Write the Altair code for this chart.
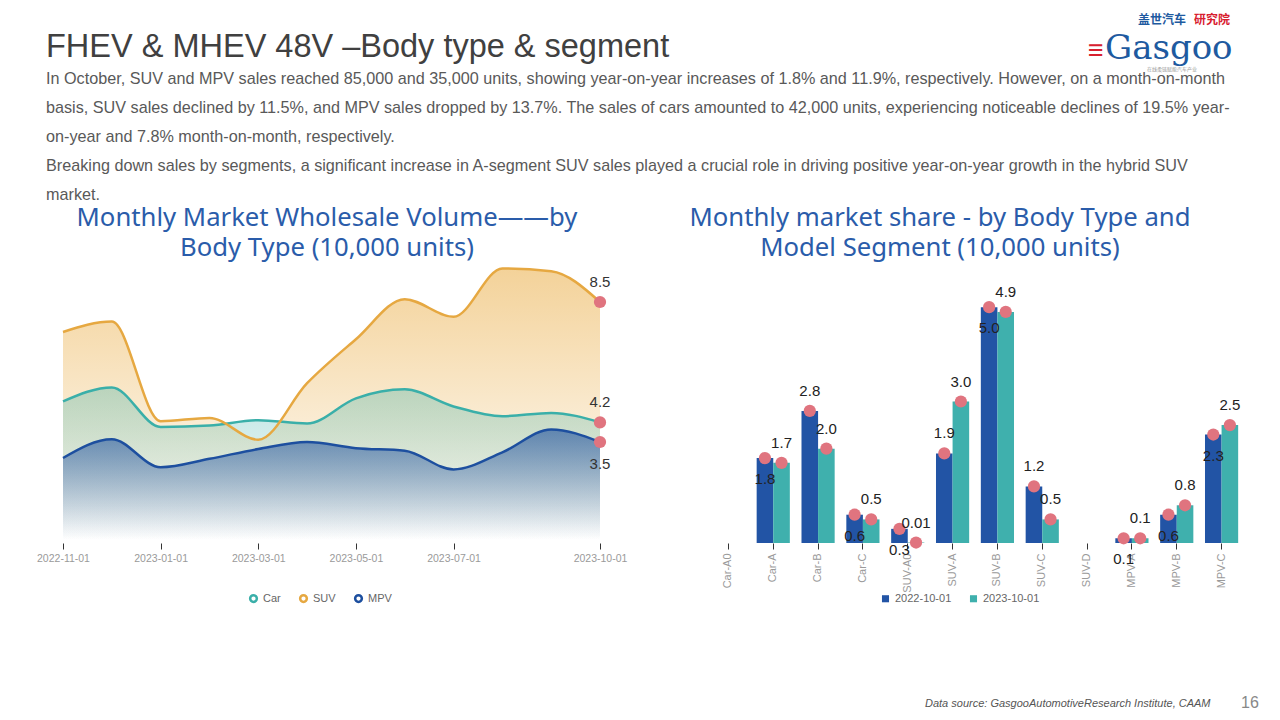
import altair as alt
import pandas as pd

FONT = "Liberation Sans, Arial, sans-serif"
TFONT = "Noto Sans, Liberation Sans, sans-serif"

# ---------------- data: left chart ----------------
months = ["2022-11-01", "2022-12-01", "2023-01-01", "2023-02-01", "2023-03-01", "2023-04-01",
          "2023-05-01", "2023-06-01", "2023-07-01", "2023-08-01", "2023-09-01", "2023-10-01"]
car = [4.95, 5.45, 4.04, 4.09, 4.28, 4.16, 5.06, 5.38, 4.77, 4.42, 4.54, 4.2]
suv = [7.43, 7.8, 4.24, 4.36, 3.58, 5.6, 7.17, 8.6, 7.97, 9.7, 9.6, 8.5]
mpv = [2.93, 3.6, 2.6, 2.9, 3.25, 3.5, 3.28, 3.19, 2.52, 3.13, 3.95, 3.5]
series_names = ["Car", "SUV", "MPV"]
tick_months = ["2022-11-01", "2023-01-01", "2023-03-01", "2023-05-01", "2023-07-01", "2023-10-01"]
left_labels_below = ["MPV"]

# ---------------- data: right chart ----------------
segments = ["Car-A0", "Car-A", "Car-B", "Car-C", "SUV-A0", "SUV-A", "SUV-B", "SUV-C",
            "SUV-D", "MPV-A", "MPV-B", "MPV-C"]
periods = ["2022-10-01", "2023-10-01"]
vals_2022 = [None, 1.8, 2.8, 0.6, 0.3, 1.9, 5.0, 1.2, None, 0.1, 0.6, 2.3]
vals_2023 = [None, 1.7, 2.0, 0.5, 0.01, 3.0, 4.9, 0.5, None, 0.1, 0.8, 2.5]
labels_2022_above = ["Car-B", "SUV-A", "SUV-C"]

# ---------------- texts ----------------
page_title = "FHEV & MHEV 48V \u2013Body type & segment"
paragraph = "\n".join([
    "In October, SUV and MPV sales reached 85,000 and 35,000 units, showing year-on-year increases of 1.8% and 11.9%, respectively. However, on a month-on-month",
    "basis, SUV sales declined by 11.5%, and MPV sales dropped by 13.7%. The sales of cars amounted to 42,000 units, experiencing noticeable declines of 19.5% year-",
    "on-year and 7.8% month-on-month, respectively.",
    "Breaking down sales by segments, a significant increase in A-segment SUV sales played a crucial role in driving positive year-on-year growth in the hybrid SUV",
    "market.",
])
left_title = "Monthly Market Wholesale Volume\u2014\u2014by\nBody Type (10,000 units)"
right_title = "Monthly market share - by Body Type and\nModel Segment (10,000 units)"
footer = "Data source: GasgooAutomotiveResearch Institute, CAAM"
page_no = "16"

# ---------------- colours ----------------
C_CAR, C_SUV, C_MPV = "#3aafa9", "#e6a841", "#1d4f9f"
C_22, C_23 = "#2254a5", "#3fb0ad"
C_PINK = "#e0747f"
C_TITLE = "#2a5caa"

# ---------------- tables ----------------
rows = []
for name, arr in zip(series_names, [car, suv, mpv]):
    for m, v in zip(months, arr):
        rows.append({"month": m, "series": name, "value": v})
df_left = pd.DataFrame(rows)

rows = []
for p, arr in zip(periods, [vals_2022, vals_2023]):
    for s, v in zip(segments, arr):
        lab = None if v is None else (f"{v:.2f}" if v < 0.05 else f"{v:.1f}")
        above = (p == periods[1]) or (s in labels_2022_above)
        rows.append({"segment": s, "period": p, "value": v, "label": lab, "above": above})
df_right = pd.DataFrame(rows)


def txt(text, x, y, size, color, align="left", weight="normal", font=FONT, style="normal", lh=None):
    kw = dict(align=align, baseline="alphabetic", fontSize=size, color=color, font=font,
              fontWeight=weight, fontStyle=style)
    if lh:
        kw.update(lineBreak="\n", lineHeight=lh)
    return alt.Chart(pd.DataFrame({"t": [text]})).mark_text(**kw).encode(
        text="t:N", x=alt.value(x), y=alt.value(y))


def grad(rgb, a0, a1):
    return alt.Gradient(gradient="linear", x1=0, x2=0, y1=0, y2=1,
                        stops=[alt.GradientStop(color=f"rgba({rgb},{a0})", offset=0),
                               alt.GradientStop(color=f"rgba({rgb},{a1})", offset=1)])


# ---------------- left chart ----------------
LW, LH = 537, 280
xL = alt.X("month:O", sort=months, scale=alt.Scale(type="point", padding=0, domain=months),
           axis=alt.Axis(values=tick_months, labelAngle=0, title=None, domain=False,
                         tickColor="#333", tickSize=6, labelColor="#9a9a9a",
                         labelFontSize=10.5, labelPadding=4, labelFont=FONT, offset=3))
yL = alt.Y("value:Q", scale=alt.Scale(domain=[0, 10], nice=False), axis=None)

base_l = alt.Chart(df_left)
area_suv = base_l.transform_filter("datum.series == 'SUV'").mark_area(
    interpolate="monotone", color=grad("233,169,60", 0.52, 0.0)).encode(x=xL, y=yL)
area_car = base_l.transform_filter("datum.series == 'Car'").mark_area(
    interpolate="monotone", color=grad("58,175,169", 0.33, 0.0)).encode(x=xL, y=yL)
area_mpv = base_l.transform_filter("datum.series == 'MPV'").mark_area(
    interpolate="monotone", color=grad("29,79,159", 0.62, 0.0)).encode(x=xL, y=yL)
lines_l = base_l.mark_line(interpolate="monotone", strokeWidth=2.5).encode(
    x=xL, y=yL,
    color=alt.Color("series:N", scale=alt.Scale(domain=series_names, range=[C_CAR, C_SUV, C_MPV]),
                    legend=alt.Legend(title=None, orient="none", legendX=185, legendY=333,
                                      direction="horizontal", symbolType="circle", symbolSize=45,
                                      symbolStrokeWidth=2.5, symbolFillColor="white",
                                      labelFontSize=11, labelColor="#666", labelFont=FONT,
                                      columnPadding=14)),
    detail="series:N")
last_l = base_l.transform_filter(f"datum.month == '{months[-1]}'")
pts_l = last_l.mark_circle(size=150, color=C_PINK, opacity=1).encode(x=xL, y=yL)
lab_l_up = last_l.transform_filter(
    alt.FieldOneOfPredicate(field="series", oneOf=[s for s in series_names if s not in left_labels_below])
).mark_text(dy=-20, fontSize=15, color="#333", font=FONT, baseline="middle").encode(
    x=xL, y=yL, text=alt.Text("value:Q", format=".1f"))
lab_l_dn = last_l.transform_filter(
    alt.FieldOneOfPredicate(field="series", oneOf=left_labels_below)
).mark_text(dy=22, fontSize=15, color="#333", font=FONT, baseline="middle").encode(
    x=xL, y=yL, text=alt.Text("value:Q", format=".1f"))

anchor = alt.Chart(pd.DataFrame({"a": [0]})).mark_rule(strokeOpacity=0).encode(
    x=alt.value(-55), x2=alt.value(-54), y=alt.value(-252), y2=alt.value(-251))

left = alt.layer(
    anchor, area_suv, area_car, area_mpv, lines_l, pts_l, lab_l_up, lab_l_dn,
    txt(page_title, -17, -203, 32.5, "#404040"),
    txt(paragraph, -17, -176, 16.2, "#595959", lh=29),
    txt(left_title, 264, -34, 25.7, C_TITLE, align="center", font=TFONT, lh=30),
).properties(width=LW, height=LH)

# ---------------- right chart ----------------
RW, RH = 538, 283
xR = alt.X("segment:N", sort=segments,
           scale=alt.Scale(domain=segments, paddingInner=0.26, paddingOuter=0.13),
           axis=alt.Axis(labelAngle=270, title=None, domain=False, tickColor="#333", tickSize=6,
                         labelColor="#9a9a9a", labelFontSize=11, labelFont=FONT, labelPadding=4,
                         offset=0))
xoR = alt.XOffset("period:N", sort=periods, scale=alt.Scale(domain=periods, paddingInner=0, paddingOuter=0))
yR = alt.Y("value:Q", scale=alt.Scale(domain=[0, 6], nice=False), axis=None)

base_r = alt.Chart(df_right).transform_filter("isValid(datum.value)")
bars = base_r.mark_bar().encode(
    x=xR, xOffset=xoR, y=yR,
    color=alt.Color("period:N", scale=alt.Scale(domain=periods, range=[C_22, C_23]),
                    legend=alt.Legend(title=None, orient="none", legendX=174, legendY=333,
                                      direction="horizontal", symbolType="square", symbolSize=50,
                                      labelFontSize=11, labelColor="#666", labelFont=FONT,
                                      columnPadding=16)))
pts_r = base_r.mark_circle(size=150, color=C_PINK, opacity=1).encode(x=xR, xOffset=xoR, y=yR)
lab_r_up = base_r.transform_filter("datum.above").mark_text(
    dy=-20, fontSize=15, color="#222", font=FONT, baseline="middle").encode(
    x=xR, xOffset=xoR, y=yR, text="label:N")
lab_r_dn = base_r.transform_filter("!datum.above").mark_text(
    dy=21, fontSize=15, color="#222", font=FONT, baseline="middle").encode(
    x=xR, xOffset=xoR, y=yR, text="label:N")

right = alt.layer(
    bars, pts_r, lab_r_up, lab_r_dn,
    txt(right_title, 234, -34, 25.7, C_TITLE, align="center", font=TFONT, lh=30),
    txt("盖世汽车", 432, -236, 12, "#1e5aa0", weight="bold", font="Noto Sans CJK SC"),
    txt("研究院", 488, -236, 12, "#d8202f", weight="bold", font="Noto Sans CJK SC"),
    txt("\u2261", 382, -201, 27, "#d8202f", weight="bold", font=FONT),
    txt("Gasgoo", 399, -201, 34, "#1e5aa0", font="DejaVu Serif, serif"),
    txt("在线柔链赋能汽车产业", 466, -189, 5, "#999", font="Noto Sans CJK SC", align="center"),
    txt(footer, 219, 447, 11, "#555", style="italic"),
    txt(page_no, 535, 448, 16, "#888"),
).properties(width=RW, height=RH)

chart = alt.hconcat(left, right, spacing=106, bounds="flush").resolve_scale(
    color="independent").resolve_legend(color="independent").properties(
    padding=0).configure_view(stroke=None)

chart.save("out.html", embed_options={"renderer": "svg", "actions": False})
